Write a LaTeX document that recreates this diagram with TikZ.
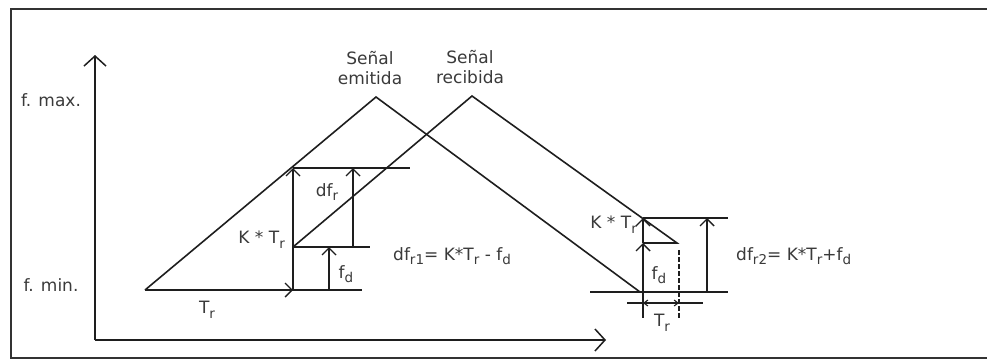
\documentclass[tikz,border=0pt]{standalone}
\usepackage{fontspec}
\setmainfont{DejaVu Sans}
\usetikzlibrary{arrows.meta}
\newcommand\mysub[1]{\raisebox{-0.5ex}{\fontsize{13.5}{13.5}\selectfont #1}}
\definecolor{ink}{HTML}{1E1E1E}
\definecolor{txt}{HTML}{3A3A3A}
\tikzset{
  ln/.style={draw=ink, line width=1.6pt},
  arr/.style={ln, -{Straight Barb[length=7pt,width=14pt,line width=1.4pt]}},
  bigarr/.style={ln, -{Straight Barb[length=10pt,width=22pt,line width=1.5pt]}},
  smallarr/.style={ln, line width=1.1pt, {Straight Barb[length=4pt,width=6pt]}-{Straight Barb[length=4pt,width=6pt]}},
  lbl/.style={text=txt, font=\fontsize{17}{20.5}\selectfont, inner sep=0pt},
}
\begin{document}
\begin{tikzpicture}[x=1pt,y=-1pt]
\useasboundingbox (0,0) rectangle (987,360);
% frame
\draw[draw=black!80, line width=2.2pt] (11,9) rectangle (995,358);
% axes
\coordinate (O) at (95,340);
\coordinate (Ytop) at (95,55);
\coordinate (Xend) at (606,340);
\draw[bigarr] (O) -- (Ytop);
\draw[bigarr] (O) -- (Xend);
\node[lbl] (fmax) at (51,100) {f. max.};
\node[lbl] (fmin) at (51,285) {f. min.};
% signals
\coordinate (E0) at (145,290);
\coordinate (Ep) at (376,97);
\coordinate (E1) at (640,292);
\coordinate (R0) at (293,247);
\coordinate (Rp) at (472,96);
\coordinate (R1) at (677,243);
\coordinate (R2) at (643,243);
\coordinate (R3) at (643,218);
\draw[ln] (E0) -- (Ep) -- (E1);
\draw[ln] (R0) -- (Rp) -- (R1) -- (R2);
\node[lbl, align=center] (se) at (370,68) {Señal\\emitida};
\node[lbl, align=center] (sr) at (470,67) {Señal\\recibida};
% left annotations
\coordinate (L1) at (293,290);
\coordinate (L1e) at (362,290);
\coordinate (L2) at (293,168);
\coordinate (L2e) at (410,168);
\coordinate (L3e) at (370,247);
\coordinate (A1b) at (353,247);
\coordinate (A1t) at (353,168);
\coordinate (A2b) at (329,290);
\coordinate (A2t) at (329,247);
\draw[ln] (E0) -- (L1e);
\draw[arr] (E0) -- (L1);
\draw[arr] (L1) -- (L2);
\draw[ln] (L2) -- (L2e);
\draw[ln] (R0) -- (L3e);
\draw[arr] (A1b) -- (A1t);
\draw[arr] (A2b) -- (A2t);
\node[lbl, anchor=east] (kt1) at (285,240) {K * T\mysub{r}};
\node[lbl] (dfr) at (327,192) {df\mysub{r}};
\node[lbl] (fd1) at (346,274) {f\mysub{d}};
\node[lbl] (tr1) at (207,310) {T\mysub{r}};
\node[lbl, anchor=west] (eq1) at (393,256) {df\mysub{r1}= K*T\mysub{r} - f\mysub{d}};
% right annotations
\coordinate (B0) at (590,292);
\coordinate (B0e) at (728,292);
\coordinate (B1e) at (728,218);
\coordinate (C1b) at (707,292);
\coordinate (C1t) at (707,218);
\coordinate (D0) at (643,292);
\coordinate (D0d) at (643,318);
\coordinate (Q0) at (679,250);
\coordinate (Q1) at (679,318);
\coordinate (H0) at (627,303);
\coordinate (H1) at (703,303);
\coordinate (H2) at (643,303);
\coordinate (H3) at (679,303);
\draw[ln] (B0) -- (B0e);
\draw[ln] (R3) -- (B1e);
\draw[arr] (C1b) -- (C1t);
\draw[arr] (D0) -- (R2);
\draw[arr] (R2) -- (R3);
\draw[ln, line width=1.1pt] (D0) -- (D0d);
\draw[ln, line width=1.1pt, dash pattern=on 5pt off 2pt] (Q0) -- (Q1);
\draw[ln, line width=1.1pt] (H0) -- (H1);
\draw[smallarr] (H2) -- (H3);
\node[lbl, anchor=east] (kt2) at (637,225) {K * T\mysub{r}};
\node[lbl] (fd2) at (659,275) {f\mysub{d}};
\node[lbl] (tr2) at (662,323) {T\mysub{r}};
\node[lbl, anchor=west] (eq2) at (736,256) {df\mysub{r2}= K*T\mysub{r}+f\mysub{d}};
\end{tikzpicture}
\end{document}
